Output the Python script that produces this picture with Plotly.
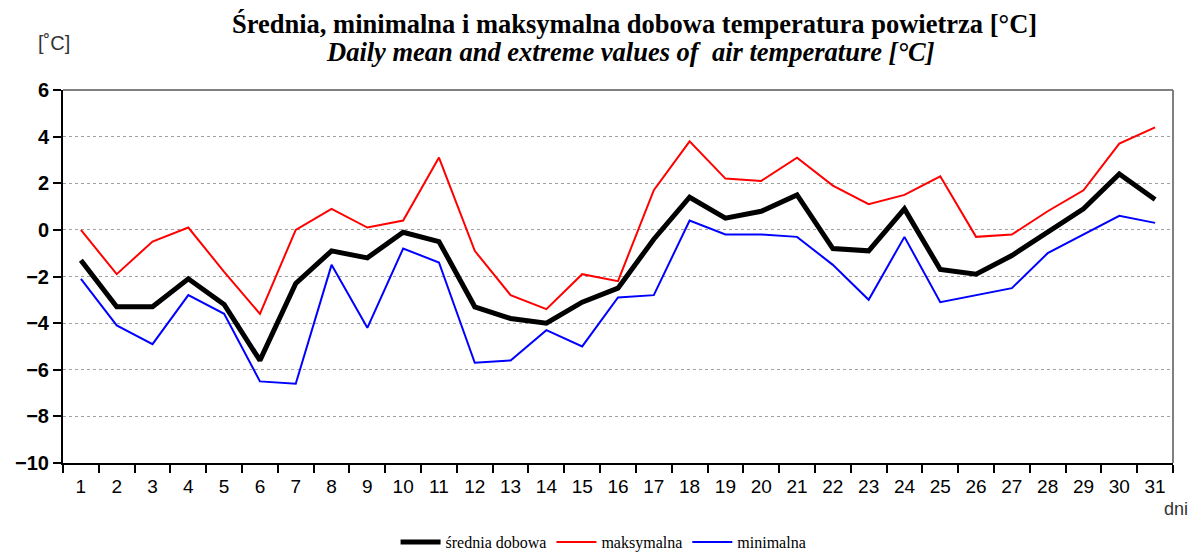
import plotly.graph_objects as go

days = [str(d) for d in range(1, 32)]
mean_t = [-1.3, -3.3, -3.3, -2.1, -3.2, -5.6, -2.3, -0.9, -1.2, -0.1, -0.5, -3.3, -3.8, -4.0, -3.1, -2.5,
          -0.4, 1.4, 0.5, 0.8, 1.5, -0.8, -0.9, 0.9, -1.7, -1.9, -1.1, -0.1, 0.9, 2.4, 1.3]
max_t = [0.0, -1.9, -0.5, 0.1, -1.8, -3.6, 0.0, 0.9, 0.1, 0.4, 3.1, -0.9, -2.8, -3.4, -1.9, -2.2,
         1.7, 3.8, 2.2, 2.1, 3.1, 1.9, 1.1, 1.5, 2.3, -0.3, -0.2, 0.8, 1.7, 3.7, 4.4]
min_t = [-2.1, -4.1, -4.9, -2.8, -3.6, -6.5, -6.6, -1.5, -4.2, -0.8, -1.4, -5.7, -5.6, -4.3, -5.0, -2.9,
         -2.8, 0.4, -0.2, -0.2, -0.3, -1.5, -3.0, -0.3, -3.1, -2.8, -2.5, -1.0, -0.2, 0.6, 0.3]
y_ticks = [-10, -8, -6, -4, -2, 0, 2, 4, 6]

SANS = "Liberation Sans, Arial, sans-serif"
SERIF = "Liberation Serif, Times New Roman, serif"

fig = go.Figure()
fig.add_trace(go.Scatter(x=days, y=mean_t, name="średnia dobowa", mode="lines",
                         line=dict(color="black", width=5)))
fig.add_trace(go.Scatter(x=days, y=max_t, name="maksymalna", mode="lines",
                         line=dict(color="#ff0000", width=2)))
fig.add_trace(go.Scatter(x=days, y=min_t, name="minimalna", mode="lines",
                         line=dict(color="#0000ff", width=2)))

# page body has an 8px margin; figure sized/margined so the plot area lands at x 63-1173, y 90-463
fig.update_layout(
    width=1190, height=550,
    margin=dict(l=55, r=25, t=82, b=95, autoexpand=False),
    paper_bgcolor="white", plot_bgcolor="white",
    showlegend=True,
    legend=dict(orientation="h", x=0.487, xanchor="center", y=-0.212, yanchor="middle",
                font=dict(family=SERIF, size=16, color="black"), itemwidth=40,
                bgcolor="rgba(0,0,0,0)"),
    xaxis=dict(type="category", range=[-0.5, 30.5], tickson="boundaries", ticks="outside",
               ticklen=8, tickcolor="black", tickwidth=1.5, showline=True, linecolor="black",
               linewidth=2, showgrid=False, ticklabelstandoff=5,
               tickfont=dict(family=SANS, size=19, color="black")),
    yaxis=dict(range=[-10, 6], tickvals=y_ticks, ticks="outside", ticklen=8, tickcolor="black",
               tickwidth=1.5, showline=True, linecolor="black", linewidth=2,
               showgrid=True, gridcolor="#a0a0a0", griddash="dot", gridwidth=1, zeroline=False,
               tickfont=dict(family=SANS, size=20, color="black", weight="bold")),
)

# top and right frame lines
fig.add_shape(type="line", xref="paper", yref="paper", x0=0, x1=1, y0=1, y1=1,
              line=dict(color="#808080", width=2))
fig.add_shape(type="line", xref="paper", yref="paper", x0=1, x1=1, y0=0, y1=1,
              line=dict(color="#808080", width=2))

fig.add_annotation(text="<b>Średnia, minimalna i maksymalna dobowa temperatura powietrza [°C]</b>",
                   xref="paper", yref="paper", x=0.515, y=1.178, xanchor="center", yanchor="middle",
                   showarrow=False, font=dict(family=SERIF, size=26.5, color="black"))
fig.add_annotation(text="<b><i>Daily mean and extreme values of  air temperature [°C]</i></b>",
                   xref="paper", yref="paper", x=0.511, y=1.103, xanchor="center", yanchor="middle",
                   showarrow=False, font=dict(family=SERIF, size=26.5, color="black"))
fig.add_annotation(text="[˚C]", xref="paper", yref="paper", x=-0.008, y=1.125,
                   xanchor="center", yanchor="middle", showarrow=False,
                   font=dict(family=SANS, size=20, color="#333333"))
fig.add_annotation(text="dni", xref="paper", yref="paper", x=1.003, y=-0.123,
                   xanchor="center", yanchor="middle", showarrow=False,
                   font=dict(family=SANS, size=18, color="#333333"))

fig.write_html("out.html")
